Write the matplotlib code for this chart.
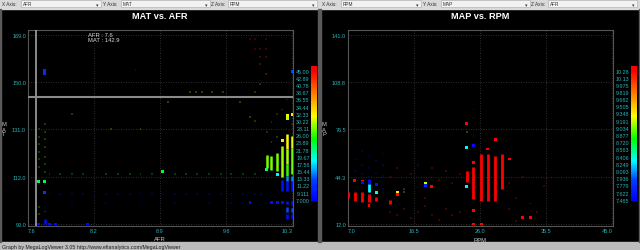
import numpy as np
import matplotlib
matplotlib.use('Agg')
import matplotlib.pyplot as plt
from matplotlib.colors import LinearSegmentedColormap, Normalize
from matplotlib.patches import Rectangle

plt.rcParams['font.family'] = ['Liberation Sans', 'DejaVu Sans']

# ---------------- data: MAT vs AFR, coloured by RPM ----------------
afr_ticks = [7.6, 8.275, 8.95, 9.625, 10.3]
afr_labels = ['7.6', '8.2', '8.9', '9.6', '10.3']
mat_ticks = [93, 112, 131, 150, 169]
mat_labels = ['93.0', '112.0', '131.0', '150.0', '169.0']
rpm_cb_labels = ['7.000', '9.111', '11.22', '13.33', '15.44', '17.56', '19.67', '21.78', '23.89',
                 '26.00', '28.11', '30.22', '32.33', '34.44', '36.55', '38.67', '40.78', '42.89', '45.00']

# vertical runs of stacked samples: afr, mat from, mat to, rpm
l_seg_afr = [10.04, 10.09, 10.15, 10.20, 10.20, 10.25, 10.25, 10.25, 10.25, 10.25, 10.25, 10.25, 10.25,
             10.30, 10.30, 10.30, 10.30, 10.30, 10.30, 10.30, 7.77]
l_seg_lo = [115.5, 114.7, 114.2, 111.8, 106.4, 123.0, 117.0, 112.4, 110.4, 106.4, 101.0, 97.8, 95.0,
            123.5, 113.0, 110.4, 106.4, 100.8, 97.8, 95.0, 93.0]
l_seg_hi = [120.7, 120.4, 121.4, 124.5, 110.6, 129.1, 123.0, 117.0, 112.4, 110.4, 102.4, 99.8, 97.0,
            128.5, 123.5, 112.4, 110.2, 102.4, 99.5, 97.0, 95.0]
l_seg_rpm = [28, 28, 28, 29, 8.5, 32, 29.5, 26, 15, 8.5, 8.5, 13, 8,
             31, 28, 15, 8.5, 8.5, 13, 8, 8]

# single bright samples
l_pt_afr = [10.20, 10.25, 10.30, 10.25, 10.15, 7.71, 7.77, 7.77, 7.71, 7.82, 7.88, 8.21, 8.98,
            7.77, 7.77, 10.30, 9.87, 10.09, 10.15, 10.20, 10.04]
l_pt_mat = [126.5, 136.5, 136.9, 135.2, 112.8, 109.9, 109.9, 105.8, 93.0, 93.0, 93.0, 93.0, 113.9,
            153.5, 154.7, 154.4, 101.5, 101.5, 101.5, 101.5, 114.8]
l_pt_rpm = [33, 31, 33, 30, 18, 23, 23, 12, 8, 8, 8, 8, 24,
            11, 11, 13, 8, 8, 8, 8, 22]

# faint samples
l_dim_afr = [7.82, 7.93, 8.05, 8.16, 8.40, 8.52, 8.64, 8.75, 8.87, 9.10, 9.22, 9.33, 9.45, 9.57, 9.68, 9.80, 9.92,
             7.82, 7.93, 8.05, 8.16, 8.28, 8.40, 8.52, 8.64, 8.75, 8.87, 8.98, 9.10, 9.22, 9.33, 9.45, 9.57,
             9.68, 9.80, 9.92, 9.98,
             8.05, 8.40, 8.75, 9.10, 9.45, 9.68, 9.80,
             7.71, 7.71, 7.71, 7.71, 7.71, 7.71, 7.71, 7.71,
             7.77, 7.77, 7.77, 7.77, 7.77, 7.77, 7.77, 7.77,
             9.87, 9.92, 10.03, 9.92, 9.97, 10.03, 9.97, 10.03, 9.97, 10.03, 9.97, 9.92,
             9.26, 9.32, 9.38, 9.48, 9.59, 9.03, 9.77, 9.87, 9.92, 8.05, 8.45, 8.75,
             10.04, 10.09, 10.15, 10.20, 10.25, 10.30, 10.09, 10.15, 8.70]
l_dim_mat = [113, 113, 113, 113, 113, 113, 113, 113, 113, 113, 113, 113, 113, 113, 113, 113, 113,
             105, 105, 105, 105, 105, 105, 105, 105, 105, 105, 105, 105, 105, 105, 105, 105,
             105, 105, 105, 105,
             101.5, 101.5, 101.5, 101.5, 101.5, 101.5, 101.5,
             97, 100, 116, 119, 122, 125, 128, 131,
             98, 114, 117, 120, 124, 127, 130, 133,
             167.3, 167.3, 167.3, 163.3, 163.3, 163.3, 160, 160, 157.3, 153.2, 149.2, 146,
             146, 146, 146, 146, 146, 142, 142, 136, 134.4, 137, 131, 131,
             130, 134, 128, 139, 143, 133, 126, 137, 155]
l_dim_rpm = [24, 24, 24, 24, 24, 24, 24, 24, 24, 24, 24, 24, 24, 24, 24, 24, 24,
             9, 9, 9, 9, 9, 9, 9, 9, 9, 9, 9, 9, 9, 9, 9, 9,
             9, 9, 9, 9,
             8, 8, 8, 8, 8, 8, 8,
             27, 27, 27, 27, 27, 27, 27, 27,
             27, 27, 27, 27, 27, 27, 27, 27,
             45, 45, 45, 45, 44, 44, 43, 43, 42, 40, 38, 36,
             33, 33, 33, 33, 33, 32, 34, 30, 26, 28, 30, 30,
             38, 40, 36, 40, 42, 38, 35, 40, 12]

# ---------------- data: MAP vs RPM, coloured by AFR ----------------
rpm_ticks = [7.0, 16.5, 26.0, 35.5, 45.0]
rpm_labels = ['7.0', '16.5', '26.0', '35.5', '45.0']
map_ticks = [12.0, 44.25, 76.5, 108.75, 141.0]
map_labels = ['12.0', '44.3', '76.5', '108.8', '141.0']
afr_cb_labels = ['7.465', '7.622', '7.779', '7.936', '8.093', '8.249', '8.406', '8.563', '8.720', '8.877',
                 '9.034', '9.191', '9.348', '9.505', '9.662', '9.819', '9.975', '10.13', '10.28']

r_seg_rpm = [7.05, 8.0, 9.06, 10.02, 10.02, 10.02, 11.03, 13.05, 24.08, 25.04, 26.14, 27.1, 28.16, 29.12]
r_seg_lo = [29.5, 27.9, 26.8, 39.3, 33.6, 26.8, 27.5, 25.6, 40.4, 29.0, 27.9, 27.9, 27.9, 35.9]
r_seg_hi = [34.0, 34.0, 33.6, 42.7, 39.3, 32.4, 30.6, 28.4, 48.3, 50.6, 59.7, 59.7, 58.6, 59.7]
r_seg_afr = [10.28, 10.28, 10.28, 7.55, 8.3, 10.28, 10.28, 10.28, 10.28, 10.28, 10.28, 10.28, 10.28, 10.28]

r_pt_rpm = [8.0, 9.06, 9.06, 10.02, 11.03, 11.03, 14.1, 14.1, 18.13, 18.13, 19.04, 24.08, 24.08,
            25.04, 25.04, 25.04, 25.04, 26.14, 27.1, 28.16, 30.17, 32.14, 33.2, 24.08]
r_pt_map = [41.5, 40.9, 40.4, 24.5, 38.6, 33.6, 33.6, 32.2, 39.7, 38.1, 37.4, 64.3, 80.2,
            54.0, 21.1, 12.0, 65.8, 12.0, 63.1, 69.9, 56.3, 16.6, 16.6, 37.5]
r_pt_afr = [10.28, 10.28, 7.55, 10.28, 7.6, 8.3, 9.4, 10.28, 9.2, 7.7, 10.28, 8.3, 10.28,
            10.28, 10.28, 10.28, 7.55, 10.28, 10.28, 10.28, 10.28, 10.28, 10.28, 8.3]

r_dim_rpm = [8.0, 8.0, 9.06, 9.06, 9.06, 10.02, 10.02, 10.02, 11.03, 11.03, 12.08, 12.08, 12.08, 12.08,
             13.05, 13.05, 14.1, 14.1, 15.06, 15.06, 16.1, 16.1, 17.1, 17.1, 18.13, 18.13, 19.04, 19.04,
             20.1, 20.1, 21.1, 21.1, 22.0, 22.0, 23.1, 23.1, 15.06,
             30.17, 30.17, 31.2, 31.2, 32.14, 33.2, 34.2, 35.2,
             25.04, 25.04, 25.04, 25.04, 24.08]
r_dim_map = [48, 56, 46, 52, 62, 44, 50, 58, 47, 55, 36, 45, 52, 60,
             20, 44, 18, 50, 22, 36, 16, 46, 20, 52, 24, 30, 18, 50,
             15, 42, 22, 48, 18, 40, 20, 46, 34,
             40, 22, 30, 14, 44, 26, 20, 38,
             72, 76, 84, 90, 74.5]
r_dim_afr = [7.6, 7.6, 7.6, 7.6, 7.6, 7.6, 7.6, 7.6, 7.6, 7.6, 7.6, 7.6, 7.6, 7.6,
             10.2, 10.2, 10.2, 10.2, 10.2, 9.0, 10.2, 10.2, 10.2, 7.8, 10.2, 10.2, 10.2, 10.2,
             10.2, 10.2, 10.2, 10.2, 10.2, 10.2, 10.2, 10.2, 9.3,
             10.2, 10.2, 10.2, 10.2, 10.2, 10.2, 10.2, 10.2,
             10.28, 10.28, 10.28, 10.28, 9.3]

# ---------------- styling ----------------
W, H = 640, 251
TEAL = '#2bb3b8'
cmap = LinearSegmentedColormap.from_list('mlv', [(0.0, '#0000ff'), (0.15, '#0040ff'), (0.3, '#00ffff'),
                                                  (0.47, '#00ff00'), (0.65, '#ffff00'), (0.82, '#ff8000'),
                                                  (1.0, '#ff0000')])


def fbox(x0, y0, x1, y1):
    return [x0 / W, 1 - y1 / H, (x1 - x0) / W, (y1 - y0) / H]


def ftext(x, y, s, **kw):
    return fig.text(x / W, 1 - y / H, s, **kw)


def dim(colors, f=0.24):
    c = np.array(colors)
    c[:, :3] = c[:, :3] * f
    return c


fig = plt.figure(figsize=(6.4, 2.51), dpi=100, facecolor='black')
bg = fig.add_axes([0, 0, 1, 1])
bg.set_xlim(0, W)
bg.set_ylim(H, 0)
bg.axis('off')

# toolbar + status bar + panel borders
bg.add_patch(Rectangle((0, 0), W, 10, color='#d9d9d9'))
bg.add_patch(Rectangle((0, 243), W, 8, color='#bdbdbd'))
bg.add_patch(Rectangle((0, 10), 1.2, 233, color='#5a5a5a'))
bg.add_patch(Rectangle((318.3, 10), 2.4, 233, color='#5a5a5a'))
bg.add_patch(Rectangle((638.8, 10), 1.2, 233, color='#5a5a5a'))

combos = [('X Axis:', 2, 21, 101), ('Y Axis:', 103, 121, 210), ('Z Axis:', 211, 228, 317)]
panel_axes = [('AFR', 'MAT', 'RPM'), ('RPM', 'MAP', 'AFR')]
for p, names in enumerate(panel_axes):
    off = 320 * p
    for (lab, lx, c0, c1), nm in zip(combos, names):
        bg.add_patch(Rectangle((off + c0, 1.2), c1 - c0, 7.2, facecolor='#f2f2f2', edgecolor='#a8a8a8', lw=0.4))
        ftext(off + lx, 5, lab, fontsize=3.4, color='#303030', va='center')
        ftext(off + c0 + 1.5, 5, nm, fontsize=3.4, color='#303030', va='center')
        ftext(off + c1 - 4, 5.6, '▾', fontsize=3.6, color='#404040', va='center', ha='center',
              family='DejaVu Sans')

ftext(1.5, 247.2, 'Graph by MegaLogViewer 3.05 http://www.efianalytics.com/MegaLogViewer',
      fontsize=3.8, color='#1c1c1c', va='center')


def setup(ax, xlim, ylim, xt, xtl, yt, ytl):
    ax.set_facecolor('black')
    ax.set_xlim(*xlim)
    ax.set_ylim(*ylim)
    ax.set_xticks(xt)
    ax.set_xticklabels(xtl)
    ax.set_yticks(yt)
    ax.set_yticklabels(ytl)
    ax.tick_params(length=0, labelsize=4, labelcolor=TEAL, pad=1.4)
    ax.grid(True, color='#3e3e3e', linestyle=(0, (1, 2)), linewidth=0.6)
    ax.set_axisbelow(True)
    for s in ax.spines.values():
        s.set_color('#555555')
        s.set_linewidth(0.8)
    labs = ax.get_xticklabels()
    labs[0].set_ha('left')
    labs[-1].set_ha('right')


def colorbar(box, norm, lo, hi, labels):
    cax = fig.add_axes(fbox(*box))
    grad = np.linspace(lo, hi, 256)[:, None]
    cax.imshow(grad, aspect='auto', cmap=cmap, norm=norm, origin='lower', extent=[0, 1, lo, hi])
    cax.set_xticks([])
    cax.yaxis.tick_left()
    cax.set_yticks([float(v) for v in labels])
    cax.set_yticklabels(labels)
    cax.tick_params(length=0, labelsize=3.9, labelcolor=TEAL, pad=1.0)
    for s in cax.spines.values():
        s.set_visible(False)


# ---------------- left: MAT vs AFR ----------------
rpm_norm = Normalize(7.0, 45.0)
ax1 = fig.add_axes(fbox(28, 31, 293, 227))
setup(ax1, (7.6, 10.31), (92.2, 170.9), afr_ticks, afr_labels, mat_ticks, mat_labels)
ax1.scatter(l_dim_afr, l_dim_mat, s=1.8, marker='s', linewidths=0,
            c=dim(cmap(rpm_norm(l_dim_rpm))), zorder=2)
ax1.vlines(l_seg_afr, l_seg_lo, l_seg_hi, colors=cmap(rpm_norm(l_seg_rpm)), linewidth=1.8, zorder=3)
ax1.scatter(l_pt_afr, l_pt_mat, s=4.5, marker='s', linewidths=0, c=cmap(rpm_norm(l_pt_rpm)), zorder=4)
# cursor
ax1.axvline(7.68, color='#b0b0b0', lw=1.1, zorder=5)
ax1.axhline(144.0, color='#8a8a8a', lw=1.5, zorder=5)
ftext(88, 33, 'AFR : 7.6\nMAT : 142.9', fontsize=4.2, color='#d8d8d8', va='top', linespacing=0.95)
colorbar((311, 67, 317, 202), rpm_norm, 6.62, 46.38, rpm_cb_labels)

ftext(160, 16.7, 'MAT vs. AFR', fontsize=6.6, fontweight='bold', color='white', ha='center', va='center')
ftext(160, 240, 'AFR', fontsize=4.2, color='#c8c8c8', ha='center', va='center')
ftext(4, 130, 'M\nA\nT', fontsize=4.2, color='#c8c8c8', ha='center', va='center', linespacing=1.0)

# ---------------- right: MAP vs RPM ----------------
afr_norm = Normalize(7.465, 10.28)
ax2 = fig.add_axes(fbox(348, 31, 613, 227))
setup(ax2, (7.0, 45.1), (10.64, 144.2), rpm_ticks, rpm_labels, map_ticks, map_labels)
ax2.scatter(r_dim_rpm, r_dim_map, s=1.8, marker='s', linewidths=0,
            c=dim(cmap(afr_norm(r_dim_afr))), zorder=2)
ax2.vlines(r_seg_rpm, r_seg_lo, r_seg_hi, colors=cmap(afr_norm(r_seg_afr)), linewidth=2.0, zorder=3)
ax2.scatter(r_pt_rpm, r_pt_map, s=4.5, marker='s', linewidths=0, c=cmap(afr_norm(r_pt_afr)), zorder=4)
colorbar((631, 67, 637, 202), afr_norm, 7.437, 10.383, afr_cb_labels)

ftext(480, 16.7, 'MAP vs. RPM', fontsize=6.6, fontweight='bold', color='white', ha='center', va='center')
ftext(480, 241, 'RPM', fontsize=4.2, color='#c8c8c8', ha='center', va='center')
ftext(324, 130, 'M\nA\nP', fontsize=4.2, color='#c8c8c8', ha='center', va='center', linespacing=1.0)

fig.savefig('out.png', dpi=100, facecolor='black')
